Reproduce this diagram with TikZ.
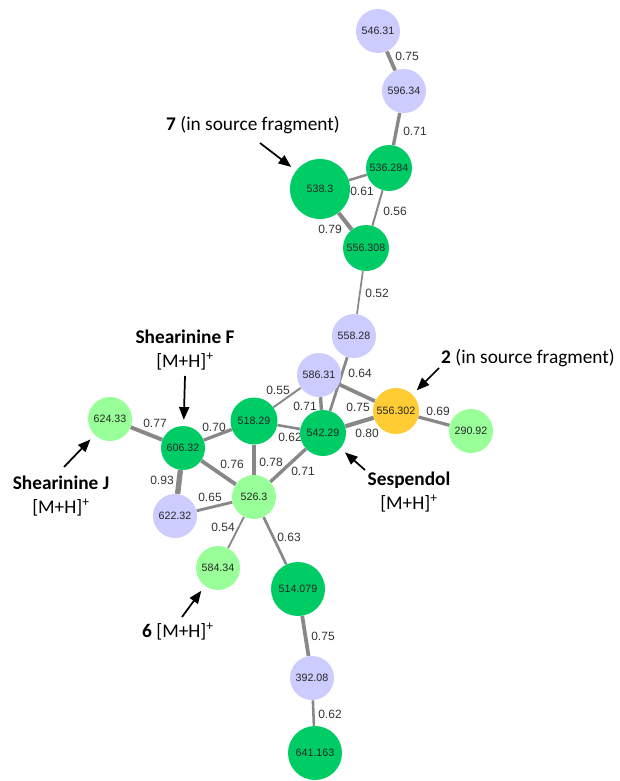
\documentclass[tikz,border=0pt]{standalone}
\usepackage{fontspec}
\setmainfont{Liberation Sans}
\newfontfamily\notefont{Carlito}
\usepackage{tikz}
\usetikzlibrary{arrows.meta, backgrounds}

\definecolor{ionDark}{HTML}{00CC66}
\definecolor{ionLight}{HTML}{99FF99}
\definecolor{ionLav}{HTML}{CCCCFF}
\definecolor{ionGold}{HTML}{FFCC33}
\definecolor{linkGray}{HTML}{888888}

\begin{document}
\begin{tikzpicture}[x=0.75pt, y=-0.75pt,
    ion/.style={circle, inner sep=0pt, text=black!85, font=\fontsize{8}{9}\selectfont},
    wt/.style={inner sep=0pt, text=black!80, font=\fontsize{9}{10}\selectfont},
    note/.style={inner sep=0pt, align=center, font=\notefont\fontsize{14.5}{18}\selectfont},
    pointer/.style={-{Triangle[length=9.5pt, width=7.5pt]}, line width=1.3pt, shorten >=4.5pt}]

    \useasboundingbox (0,0) rectangle (619,781);

    % 1. ions (circle size in px)
    \foreach \nm/\x/\y/\col/\d/\mz in {
        n546/378/31/ionLav/44/546.31,   n596/404/91/ionLav/44/596.34,
        n536/389/168/ionDark/46/536.284, n538/320/189/ionDark/60/538.3,
        n556a/366/248/ionDark/46/556.308, n558/354/336/ionLav/44/558.28,
        n586/319/375/ionLav/44/586.31,  n556b/396/411/ionGold/46/556.302,
        n290/471/431/ionLight/44/290.92, n542/323/433/ionDark/46/542.29,
        n518/254/421/ionDark/47/518.29, n606/183/448/ionDark/44/606.32,
        n624/110/419/ionLight/44/624.33, n622/175/516/ionLav/44/622.32,
        n526/254/497/ionLight/44/526.3, n584/218/568/ionLight/44/584.34,
        n514/298/589/ionDark/54/514.079, n392/312/678/ionLav/44/392.08,
        n641/315/753/ionDark/54/641.163} {
        \node[ion, fill=\col, minimum size={\d*0.75pt}] (\nm) at (\x,\y) {\mz};
    }

    % 2. links, line width follows the score
    \begin{pgfonlayer}{background}
    \foreach \a/\b/\s/\lx/\ly in {
        n546/n596/0.75/407/56,  n596/n536/0.71/415/131,
        n536/n538/0.61/362/191, n536/n556a/0.56/395/211,
        n538/n556a/0.79/330/229, n556a/n558/0.52/377/293,
        n558/n542/0.64/360/373, n586/n556b/0.75/358/407,
        n586/n542/0.71/305/406, n542/n556b/0.80/367/433,
        n556b/n290/0.69/438/411, n586/n518/0.55/278/390,
        n518/n542/0.62/290/437, n606/n518/0.70/214/427,
        n606/n624/0.77/155/423, n606/n526/0.76/232/464,
        n518/n526/0.78/271/462, n542/n526/0.71/303/471,
        n606/n622/0.93/162/480, n622/n526/0.65/210/497,
        n526/n584/0.54/223/527, n526/n514/0.63/289/537,
        n514/n392/0.75/323/636, n392/n641/0.62/330/714} {
        \draw[linkGray, line width={(1.5+(\s-0.5)*9)*0.75pt}] (\a) -- (\b);
        \node[wt] at (\lx,\ly) {\s};
    }
    \end{pgfonlayer}

    % 3. notes and pointers
    \node[note, anchor=base] (t7) at (253,131) {\textbf{7} (in source fragment)};
    \node[note, anchor=base] (t2) at (528,363) {\textbf{2} (in source fragment)};
    \node[note] (tF) at (185,350) {\textbf{Shearinine F}\\{}[M+H]\textsuperscript{+}};
    \node[note] (tJ) at (61,496) {\textbf{Shearinine J}\\{}[M+H]\textsuperscript{+}};
    \node[note] (tS) at (409,492) {\textbf{Sespendol}\\{}[M+H]\textsuperscript{+}};
    \node[note, anchor=base] (t6) at (178,637) {\textbf{6} [M+H]\textsuperscript{+}};

    \coordinate (p7) at (260,143);
    \coordinate (p2) at (439,368);
    \coordinate (pF) at (185,376);
    \coordinate (pJ) at (64,467);
    \coordinate (pS) at (365,470);
    \coordinate (p6) at (182,617);

    \draw[pointer] (p7) -- (n538);
    \draw[pointer] (p2) -- (n556b);
    \draw[pointer] (pF) -- (n606);
    \draw[pointer] (pJ) -- (n624);
    \draw[pointer] (pS) -- (n542);
    \draw[pointer] (p6) -- (n584);

\end{tikzpicture}
\end{document}
